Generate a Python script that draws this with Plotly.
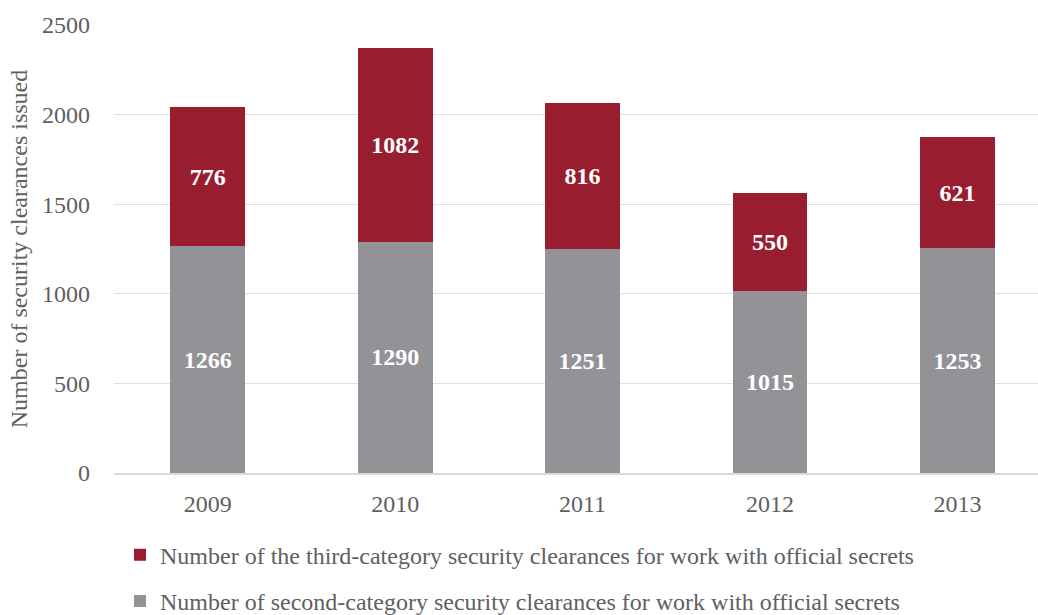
import plotly.graph_objects as go

years = ["2009", "2010", "2011", "2012", "2013"]
second_category = [1266, 1290, 1251, 1015, 1253]
third_category = [776, 1082, 816, 550, 621]
y_ticks = [0, 500, 1000, 1500, 2000, 2500]

name_second = "Number of second-category security clearances for work with official secrets"
name_third = "Number of the third-category security clearances for work with official secrets"

FONT = "Liberation Serif, Times New Roman, serif"
TEXT_GRAY = "#5f5f5f"
LABEL_FONT = dict(family=FONT, size=24, color="white", weight="bold")

fig = go.Figure()
fig.add_trace(go.Bar(
    x=years, y=second_category, name=name_second,
    marker=dict(color="#939297", line=dict(width=0)),
    text=second_category, texttemplate="%{text}", textposition="inside",
    insidetextanchor="middle", textfont=LABEL_FONT,
    legendgroup="g2", legendrank=2,
))
fig.add_trace(go.Bar(
    x=years, y=third_category, name=name_third,
    marker=dict(color="#971d2f", line=dict(width=0)),
    text=third_category, texttemplate="%{text}", textposition="inside",
    insidetextanchor="middle", textfont=LABEL_FONT,
    legendgroup="g3", legendrank=1,
))

fig.update_layout(
    barmode="stack",
    bargap=0.6,
    width=1038, height=615,
    margin=dict(l=114, r=0, t=25, b=142, autoexpand=False),
    paper_bgcolor="white", plot_bgcolor="white",
    font=dict(family=FONT, size=24, color=TEXT_GRAY),
    uniformtext=dict(mode=False),
    showlegend=True,
    legend=dict(
        orientation="v", traceorder="grouped",
        x=0.0065, xanchor="left", y=-0.133, yanchor="top",
        font=dict(family=FONT, size=24, color=TEXT_GRAY),
        tracegroupgap=12, itemwidth=30,
        bgcolor="rgba(0,0,0,0)",
    ),
    xaxis=dict(
        range=[-0.5, 4.43],
        showgrid=False, showline=True, linecolor="#d9d9d9", linewidth=1.5,
        ticks="", ticklabelstandoff=8,
        tickfont=dict(family=FONT, size=24, color=TEXT_GRAY),
    ),
    yaxis=dict(
        range=[0, 2500], tickvals=y_ticks, showgrid=True, gridcolor="#e0e0e0",
        gridwidth=1.2, zeroline=False, showline=False, ticks="",
        ticklabelstandoff=23,
        tickfont=dict(family=FONT, size=24, color=TEXT_GRAY),
        title=dict(text="Number of security clearances issued",
                   font=dict(family=FONT, size=24, color=TEXT_GRAY), standoff=7),
    ),
)

fig.write_html("out.html")
